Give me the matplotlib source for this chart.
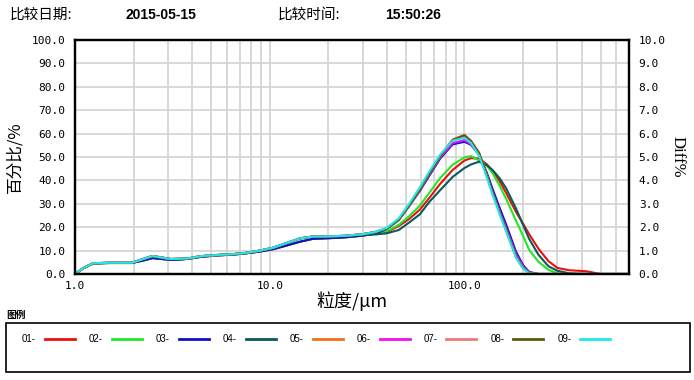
import matplotlib
matplotlib.use('Agg')
import matplotlib.pyplot as plt
from matplotlib.ticker import LogLocator, NullFormatter, FixedLocator
from matplotlib.lines import Line2D
from matplotlib.patches import Rectangle

# data
size_um = [1.0, 1.1, 1.24, 1.5, 1.95, 2.2, 2.5, 2.8, 3.1, 3.5,
           3.9, 4.4, 5.3, 6.5, 7.5, 8.9, 10.4, 12, 14.3, 16.6,
           20, 24, 30, 35, 40, 46, 52, 59, 66, 75,
           87, 100, 108, 119, 130, 140, 152, 164, 184, 200,
           215, 240, 270, 300, 345, 420, 500, 700]

low_up = [0, 2.5, 4.6, 4.8, 4.8, 6.2, 7.7, 7.0, 6.4, 6.5,
          6.8, 7.6, 8.1, 8.5, 9.0, 10.0, 11.2, 13.0, 15.2, 16.0,
          16.1, 16.3, 17.0, 18.0]
low_teal = [0, 2.5, 4.6, 4.8, 4.8, 6.2, 7.7, 7.0, 6.4, 6.5,
            6.8, 7.6, 8.1, 8.5, 9.0, 10.0, 11.2, 13.0, 15.2, 16.0,
            16.1, 16.2, 16.6, 16.9]
low_dn = [0, 2.4, 4.5, 4.7, 4.7, 5.6, 6.8, 6.4, 6.0, 6.2,
          6.6, 7.3, 7.9, 8.3, 8.8, 9.6, 10.6, 12.0, 13.8, 15.0,
          15.3, 15.6, 16.4, 17.3]

s01 = low_dn + [18.0, 20.5, 23.5, 27.5, 32.5, 38.5, 44.5, 48.5, 49.5, 49.3,
                47.0, 44.0, 39.5, 34.5, 26.5, 21.5, 17.0, 10.8, 5.5, 2.6,
                1.6, 1.2, 0, 0]
s02 = low_dn + [18.3, 21.0, 24.7, 29.2, 34.7, 41.0, 46.7, 49.8, 50.4, 48.5,
                46.5, 42.8, 37.5, 32.0, 22.8, 16.3, 10.3, 5.2, 1.8, 0.3,
                0, 0, 0, 0]
s03 = low_dn + [19.3, 23.0, 29.0, 35.5, 42.0, 49.3, 55.4, 56.5, 55.2, 51.0,
                43.5, 36.0, 28.0, 21.0, 9.5, 3.8, 0.9, 0, 0, 0,
                0, 0, 0, 0]
s04 = low_teal + [17.4, 18.8, 22.0, 25.5, 30.8, 35.8, 41.5, 45.3, 46.8, 48.0,
                  46.5, 44.3, 40.8, 36.5, 28.0, 21.0, 15.0, 8.2, 3.3, 1.4,
                  0.3, 0, 0, 0]
s05 = low_up + [19.5, 23.2, 29.2, 36.0, 42.8, 50.3, 57.2, 59.0, 56.8, 51.7,
                42.5, 34.2, 26.0, 18.7, 7.4, 2.6, 0.4, 0, 0, 0,
                0, 0, 0, 0]
s06 = low_up + [19.5, 23.3, 29.3, 36.0, 42.5, 49.8, 56.0, 57.2, 55.5, 50.8,
                42.5, 34.5, 26.5, 19.5, 8.3, 3.2, 0.6, 0, 0, 0,
                0, 0, 0, 0]
s07 = low_up + [19.6, 23.3, 29.3, 36.2, 43.0, 50.5, 57.5, 59.5, 57.0, 51.5,
                42.3, 34.0, 25.8, 18.5, 7.2, 2.5, 0.4, 0, 0, 0,
                0, 0, 0, 0]
s08 = low_up + [19.5, 23.2, 29.2, 36.0, 42.8, 50.3, 57.3, 59.3, 56.8, 51.7,
                42.5, 34.2, 26.0, 18.7, 7.4, 2.6, 0.4, 0, 0, 0,
                0, 0, 0, 0]
s09 = low_up + [19.8, 23.8, 30.0, 37.0, 43.8, 51.0, 57.0, 58.2, 56.0, 50.5,
                41.5, 33.5, 25.3, 18.0, 7.0, 2.3, 0.3, 0, 0, 0,
                0, 0, 0, 0]

series = [s01, s02, s03, s04, s05, s06, s07, s08, s09]
names = ['01-', '02-', '03-', '04-', '05-', '06-', '07-', '08-', '09-']
colors = ['#e81010', '#22e822', '#1010c8', '#0a5a5a', '#f07020',
          '#f010f0', '#f07878', '#5a5a10', '#20e8e8']

cjk = ['Noto Sans CJK SC', 'DejaVu Sans']
mono = 'DejaVu Sans Mono'
W, H = 694, 380

fig = plt.figure(figsize=(W / 100, H / 100), dpi=100)
ax = fig.add_axes([75 / W, 106 / H, 554 / W, 234 / H])

for ys, c in zip(series, colors):
    ax.plot(size_um, ys, color=c, lw=1.5, solid_joinstyle='round')

ax.set_xscale('log')
ax.set_xlim(1, 700)
ax.set_ylim(0, 100)
ax.xaxis.set_major_locator(FixedLocator([1, 10, 100]))
ax.set_xticklabels(['1.0', '10.0', '100.0'], family=mono, fontsize=8)
ax.xaxis.set_minor_locator(LogLocator(subs=range(2, 10)))
ax.xaxis.set_minor_formatter(NullFormatter())
yt = list(range(0, 101, 10))
ax.set_yticks(yt)
ax.set_yticklabels(['%.1f' % v for v in yt], family=mono, fontsize=8)
ax.grid(True, which='both', axis='x', color='#d2d2d2', lw=1.2)
ax.grid(True, which='major', axis='y', color='#d2d2d2', lw=1.2)
ax.set_axisbelow(True)
ax.tick_params(which='both', length=0)
ax.tick_params(axis='y', pad=7)
ax.tick_params(axis='x', pad=5)
for s in ax.spines.values():
    s.set_linewidth(1.6)

ax.set_xlabel('粒度/μm', family=cjk, fontsize=13, labelpad=0)
ax.set_ylabel('百分比/%', family=cjk, fontsize=12, labelpad=6)

ax2 = ax.twinx()
ax2.set_ylim(0, 10)
rt = list(range(0, 11))
ax2.set_yticks(rt)
ax2.set_yticklabels(['%.1f' % v for v in rt], family=mono, fontsize=8)
ax2.tick_params(length=0, pad=7)
for s in ax2.spines.values():
    s.set_linewidth(1.6)
ax2.set_ylabel('Diff%', family='Liberation Serif', fontsize=12,
               rotation=270, labelpad=14)

# header
fig.text(10 / W, 1 - 15 / H, '比较日期:', family=cjk, fontsize=10.5, va='center')
fig.text(125 / W, 1 - 15 / H, '2015-05-15', family='Liberation Sans',
         fontweight='bold', fontsize=10, va='center')
fig.text(278 / W, 1 - 15 / H, '比较时间:', family=cjk, fontsize=10.5, va='center')
fig.text(385 / W, 1 - 15 / H, '15:50:26', family='Liberation Sans',
         fontweight='bold', fontsize=10, va='center')

# legend box
fig.text(6 / W, 1 - 315 / H, '图例', family=cjk, fontsize=7,
         fontweight='bold', va='center')
fig.add_artist(Rectangle((6 / W, 1 - 372 / H), 684 / W, 49 / H,
                         transform=fig.transFigure, fill=False,
                         edgecolor='black', lw=1.2))
for i, (n, c) in enumerate(zip(names, colors)):
    x0 = 22 + i * 66.9
    fig.text(x0 / W, 1 - 339 / H, n, family='Liberation Sans', fontsize=7,
             va='center')
    fig.add_artist(Line2D([(x0 + 23) / W, (x0 + 53) / W],
                          [1 - 339 / H, 1 - 339 / H],
                          transform=fig.transFigure, color=c, lw=2))

fig.savefig('out.png', dpi=100)
